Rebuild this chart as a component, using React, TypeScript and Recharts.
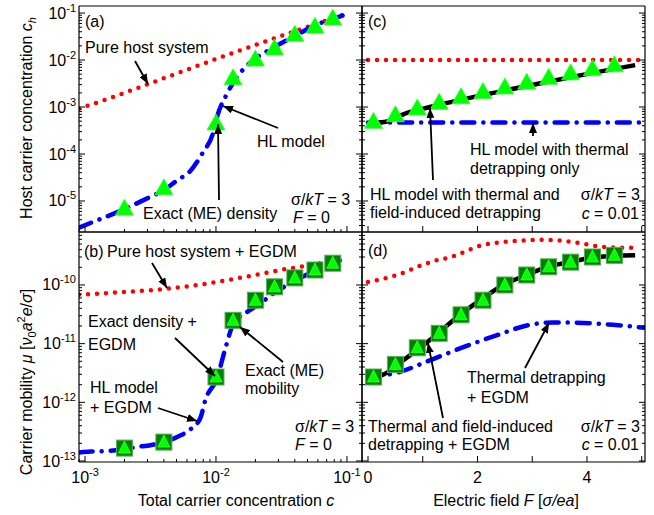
import React from "react";
import { ComposedChart, Line, Scatter, XAxis, YAxis } from "recharts";

const FONT = "'Liberation Sans', Arial, Helvetica, sans-serif";
const W = 654;
const H = 515;

// ---------- (a) host carrier concentration vs total concentration ----------
const exactC = [0.002, 0.004, 0.01, 0.0135, 0.02, 0.028, 0.04, 0.057, 0.078];
const aExactCh = [7.4e-6, 2.0e-5, 4.8e-4, 4.4e-3, 1.1e-2, 1.9e-2, 3.7e-2, 5.5e-2, 8.2e-2];
const aHostC = [0.0009, 0.002, 0.004, 0.01, 0.02, 0.04, 0.097];
const aHostCh = [0.00092, 0.002, 0.0041, 0.0105, 0.021, 0.041, 0.095];
const aHlC = [0.0009, 0.0011, 0.00195, 0.0031, 0.004, 0.0051, 0.0063, 0.0079, 0.0095, 0.0103, 0.012, 0.0145, 0.0174, 0.028, 0.039, 0.057, 0.081, 0.1];
const aHlCh = [2.7e-6, 3.4e-6, 6.5e-6, 1.2e-5, 1.7e-5, 2.8e-5, 4.2e-5, 1.05e-4, 2.8e-4, 6.8e-4, 1.8e-3, 4.4e-3, 7.8e-3, 1.9e-2, 3.1e-2, 5.5e-2, 7.8e-2, 9.5e-2];

// ---------- (b) mobility vs total concentration ----------
const bExactMu = [1.66e-13, 2.1e-13, 2.7e-12, 2.5e-11, 5.5e-11, 9.3e-11, 1.32e-10, 1.8e-10, 2.35e-10];
const bHostC = [0.0009, 0.002, 0.004, 0.01, 0.023, 0.032, 0.044, 0.068, 0.095];
const bHostMu = [6.8e-11, 7.6e-11, 8.5e-11, 1.12e-10, 1.58e-10, 1.82e-10, 2.05e-10, 2.45e-10, 3.0e-10];
const bHlC = [0.00091, 0.0011, 0.00148, 0.00186, 0.0025, 0.00316, 0.004, 0.0051, 0.0063, 0.0076, 0.0083, 0.0102, 0.0117, 0.0135, 0.0174, 0.022, 0.0275, 0.035, 0.046, 0.059, 0.078, 0.1];
const bHlMu = [1.4e-13, 1.45e-13, 1.48e-13, 1.55e-13, 1.74e-13, 1.86e-13, 2.1e-13, 2.6e-13, 3.4e-13, 5.4e-13, 1.1e-12, 2.6e-12, 7.8e-12, 2.1e-11, 3.5e-11, 4.9e-11, 7.2e-11, 1.0e-10, 1.38e-10, 1.8e-10, 2.3e-10, 3.0e-10];

// ---------- (c) host concentration vs field ----------
const exactF = [0.1, 0.5, 0.9, 1.3, 1.7, 2.1, 2.5, 2.9, 3.3, 3.7, 4.1, 4.5];
const cExactCh = [5.2e-4, 7.2e-4, 1.0e-3, 1.32e-3, 1.74e-3, 2.24e-3, 2.8e-3, 3.55e-3, 4.5e-3, 5.6e-3, 6.9e-3, 8.3e-3];
const cHostF = [0, 5];
const cHostCh = [0.01, 0.01];
const cThermF = [0, 5.06];
const cThermCh = [4.7e-4, 4.7e-4];
const cFieldF = [0, 0.3, 0.7, 1.13, 2.1, 3.0, 4.06, 4.88];
const cFieldCh = [4.6e-4, 4.8e-4, 7.4e-4, 1.0e-3, 1.8e-3, 2.95e-3, 5.2e-3, 7.8e-3];

// ---------- (d) mobility vs field ----------
const dExactMu = [2.7e-12, 4.4e-12, 8.5e-12, 1.5e-11, 3.1e-11, 5.5e-11, 1.0e-10, 1.48e-10, 2.04e-10, 2.45e-10, 3.0e-10, 3.2e-10];
const dHostF = [0, 0.53, 1.0, 1.3, 1.46, 2.1, 2.68, 3.2, 3.74, 4.36, 4.88];
const dHostMu = [1.12e-10, 1.48e-10, 2.2e-10, 2.7e-10, 2.9e-10, 4.8e-10, 5.6e-10, 5.9e-10, 5.4e-10, 4.4e-10, 4.3e-10];
const dFieldF = [0, 0.27, 0.58, 1.13, 1.62, 2.05, 2.47, 2.9, 3.27, 3.69, 4.18, 4.88];
const dFieldMu = [2.7e-12, 2.95e-12, 4.7e-12, 1.15e-11, 2.8e-11, 5.5e-11, 1.0e-10, 1.48e-10, 2.04e-10, 2.45e-10, 3.0e-10, 3.2e-10];
const dThermF = [0, 0.53, 1.13, 1.74, 2.36, 2.96, 3.38, 3.93, 4.47, 5.06];
const dThermMu = [2.7e-12, 3.2e-12, 5.2e-12, 8.7e-12, 1.4e-11, 2.1e-11, 2.3e-11, 2.25e-11, 2.1e-11, 1.86e-11];

// axes
const concDecades = [-3, -2, -1];
const chDecades = [-5, -4, -3, -2, -1];
const muDecades = [-13, -12, -11, -10];
const fieldTicks = [0, 1, 2, 3, 4, 5];
const fieldLabels = [0, 2, 4];

const concDomain = [Math.pow(10, -3.046), Math.pow(10, -0.885)];
const chDomain = [Math.pow(10, -5.66), Math.pow(10, -0.85)];
const muDomain = [Math.pow(10, -13.017), Math.pow(10, -9.097)];
const fieldDomain = [-0.11, 5.06];

const zip = (xs: number[], ys: number[]) => xs.map((x, i) => ({ x, y: ys[i] }));

const logTicks = (decades: number[], dom: number[]) => {
  const out: number[] = [];
  for (let k = decades[0] - 1; k <= decades[decades.length - 1]; k++) {
    for (let m = 1; m <= 9; m++) {
      const v = m * Math.pow(10, k);
      if (v >= dom[0] && v <= dom[1]) out.push(v);
    }
  }
  return out;
};

const decadeOf = (v: number) => {
  const e = Math.log10(v);
  return Math.abs(e - Math.round(e)) < 1e-6 ? Math.round(e) : null;
};

type Side = "left" | "right" | "top" | "bottom";

const makeTick = (side: Side, log: boolean, labels: boolean) => (props: any) => {
  const { x, y, payload } = props;
  const v = payload.value;
  const exp = log ? decadeOf(v) : null;
  const major = log ? exp !== null : true;
  const len = major ? 6 : 3;
  let line;
  if (side === "left") line = <line x1={x} x2={x + len} y1={y} y2={y} stroke="#000" />;
  else if (side === "right") line = <line x1={x} x2={x - len} y1={y} y2={y} stroke="#000" />;
  else if (side === "top") line = <line x1={x} x2={x} y1={y} y2={y + len} stroke="#000" />;
  else line = <line x1={x} x2={x} y1={y} y2={y - len} stroke="#000" />;

  let label = null;
  if (labels && log && exp !== null) {
    const sup = <tspan fontSize={11} dy={-7}>{`-${Math.abs(exp)}`}</tspan>;
    label =
      side === "left" ? (
        <text x={x - 3} y={y + 5.5} textAnchor="end" fontSize={16} fontFamily={FONT} fill="#000">
          10{sup}
        </text>
      ) : (
        <text x={x} y={y + 21} textAnchor="middle" fontSize={16} fontFamily={FONT} fill="#000">
          10{sup}
        </text>
      );
  } else if (labels && !log && fieldLabels.includes(v)) {
    label = (
      <text x={x} y={y + 21} textAnchor="middle" fontSize={16} fontFamily={FONT} fill="#000">
        {v}
      </text>
    );
  }
  return (
    <g>
      {line}
      {label}
    </g>
  );
};

const Triangle = ({ cx, cy, w = 18, h = 16 }: any) => (
  <path
    d={`M${cx},${cy - h / 2} L${cx + w / 2},${cy + h / 2} L${cx - w / 2},${cy + h / 2} Z`}
    fill="#00ff00"
    stroke="#3dff3d"
    strokeWidth={0.8}
  />
);

const SquareTri = ({ cx, cy }: any) => (
  <g>
    <rect x={cx - 8} y={cy - 8} width={16} height={16} fill="#008000" stroke="#55b055" strokeWidth={1} />
    <Triangle cx={cx} cy={cy - 1} w={12} h={12} />
  </g>
);

const redDots = {
  stroke: "#ff0000",
  strokeWidth: 4.5,
  strokeDasharray: "0 9",
  strokeLinecap: "round" as const,
};
const blueDashDot = {
  stroke: "#0000ff",
  strokeWidth: 4.5,
  strokeDasharray: "13 9 0.1 9",
  strokeLinecap: "round" as const,
};
const blackSolid = { stroke: "#000000", strokeWidth: 4.5 };

interface PanelProps {
  plot: { left: number; top: number; right: number; bottom: number };
  xLog: boolean;
  xDomain: number[];
  xTicks: number[];
  yDomain: number[];
  yTicks: number[];
  xLabels: boolean;
  yLabels: boolean;
  children: React.ReactNode;
}

// each axis takes 1px, so the margins are one pixel short of the plot box
const Panel = ({ plot, xLog, xDomain, xTicks, yDomain, yTicks, xLabels, yLabels, children }: PanelProps) => {
  const xScale = xLog ? "log" : "linear";
  const margin = {
    left: plot.left - 1,
    top: plot.top - 1,
    right: W - plot.right - 1,
    bottom: H - plot.bottom - 1,
  };
  const common = {
    type: "number" as const,
    allowDataOverflow: true,
    interval: 0 as const,
    tickSize: 0,
    tickMargin: 0,
    tickLine: false,
    axisLine: { stroke: "#000", strokeWidth: 1.2 },
  };
  return (
    <div style={{ position: "absolute", left: 0, top: 0 }}>
      <ComposedChart width={W} height={H} margin={margin}>
        <XAxis
          {...common}
          xAxisId="b"
          dataKey="x"
          scale={xScale}
          domain={xDomain}
          ticks={xTicks}
          height={1}
          tick={makeTick("bottom", xLog, xLabels)}
        />
        <XAxis
          {...common}
          xAxisId="t"
          orientation="top"
          scale={xScale}
          domain={xDomain}
          ticks={xTicks}
          height={1}
          tick={makeTick("top", xLog, false)}
        />
        <YAxis
          {...common}
          yAxisId="l"
          dataKey="y"
          scale="log"
          domain={yDomain}
          ticks={yTicks}
          width={1}
          tick={makeTick("left", true, yLabels)}
        />
        <YAxis
          {...common}
          yAxisId="r"
          orientation="right"
          scale="log"
          domain={yDomain}
          ticks={yTicks}
          width={1}
          tick={makeTick("right", true, false)}
        />
        {children}
      </ComposedChart>
    </div>
  );
};

const series = (xs: number[], ys: number[], style: any, key: string) => (
  <Line
    key={key}
    data={zip(xs, ys)}
    dataKey="y"
    xAxisId="b"
    yAxisId="l"
    type="monotone"
    dot={false}
    activeDot={false}
    isAnimationActive={false}
    {...style}
  />
);

const points = (xs: number[], ys: number[], shape: any, key: string) => (
  <Scatter
    key={key}
    data={zip(xs, ys)}
    dataKey="y"
    xAxisId="b"
    yAxisId="l"
    shape={shape}
    isAnimationActive={false}
  />
);

const triShape = (p: any) => <Triangle cx={p.cx} cy={p.cy} />;
const sqShape = (p: any) => <SquareTri cx={p.cx} cy={p.cy} />;

const Txt = ({ x, y, anchor = "start", children }: any) => (
  <text x={x} y={y} textAnchor={anchor} fontSize={16} fontFamily={FONT} fill="#000">
    {children}
  </text>
);

const arrows = [
  [135, 61, 148, 84],
  [278, 128, 223, 106],
  [219, 200, 218, 124],
  [152, 263, 167, 288],
  [175, 338, 215, 376],
  [283, 362, 240, 327],
  [158, 408, 197, 421],
  [533, 136, 533, 123],
  [433, 180, 430, 108],
  [525, 368, 549, 323],
  [443, 418, 428, 343],
];

const Overlay = () => (
  <svg width={W} height={H} style={{ position: "absolute", left: 0, top: 0, pointerEvents: "none" }}>
    <defs>
      <marker id="ah" viewBox="0 0 10 8" refX="10" refY="4" markerWidth="10" markerHeight="8" orient="auto" markerUnits="userSpaceOnUse">
        <path d="M0,0 L10,4 L0,8 z" fill="#000" />
      </marker>
    </defs>
    {arrows.map(([x1, y1, x2, y2], i) => (
      <line key={i} x1={x1} y1={y1} x2={x2} y2={y2} stroke="#000" strokeWidth={1.8} markerEnd="url(#ah)" />
    ))}

    {/* (a) */}
    <Txt x={85} y={27}>(a)</Txt>
    <Txt x={85} y={53}>Pure host system</Txt>
    <Txt x={257} y={147}>HL model</Txt>
    <Txt x={143} y={219}>Exact (ME) density</Txt>
    <Txt x={291} y={205}>σ/<tspan fontStyle="italic">kT</tspan> = 3</Txt>
    <Txt x={293} y={223}><tspan fontStyle="italic">F</tspan> = 0</Txt>

    {/* (b) */}
    <Txt x={84} y={257}>(b)</Txt>
    <Txt x={107} y={257}>Pure host system + EGDM</Txt>
    <Txt x={88} y={327}>Exact density +</Txt>
    <Txt x={88} y={350}>EGDM</Txt>
    <Txt x={245} y={376}>Exact (ME)</Txt>
    <Txt x={245} y={394}>mobility</Txt>
    <Txt x={90} y={393}>HL model</Txt>
    <Txt x={90} y={413}>+ EGDM</Txt>
    <Txt x={295} y={432}>σ/<tspan fontStyle="italic">kT</tspan> = 3</Txt>
    <Txt x={295} y={450}><tspan fontStyle="italic">F</tspan> = 0</Txt>

    {/* (c) */}
    <Txt x={368} y={27}>(c)</Txt>
    <Txt x={470} y={155}>HL model with thermal</Txt>
    <Txt x={470} y={174}>detrapping only</Txt>
    <Txt x={370} y={200}>HL model with thermal and</Txt>
    <Txt x={370} y={218}>field-induced detrapping</Txt>
    <Txt x={640} y={200} anchor="end">σ/<tspan fontStyle="italic">kT</tspan> = 3</Txt>
    <Txt x={639} y={219} anchor="end"><tspan fontStyle="italic">c</tspan> = 0.01</Txt>

    {/* (d) */}
    <Txt x={368} y={256}>(d)</Txt>
    <Txt x={467} y={383}>Thermal detrapping</Txt>
    <Txt x={467} y={403}>+ EGDM</Txt>
    <Txt x={368} y={432}>Thermal and field-induced</Txt>
    <Txt x={368} y={450}>detrapping + EGDM</Txt>
    <Txt x={640} y={432} anchor="end">σ/<tspan fontStyle="italic">kT</tspan> = 3</Txt>
    <Txt x={639} y={450} anchor="end"><tspan fontStyle="italic">c</tspan> = 0.01</Txt>

    {/* axis titles */}
    <text transform="translate(32,118) rotate(-90)" textAnchor="middle" fontSize={16} fontFamily={FONT} fill="#000">
      Host carrier concentration <tspan fontStyle="italic">c</tspan>
      <tspan fontStyle="italic" fontSize={11} dy={4}>h</tspan>
    </text>
    <text transform="translate(32,382) rotate(-90)" textAnchor="middle" fontSize={16} fontFamily={FONT} fill="#000">
      Carrier mobility <tspan fontStyle="italic">μ</tspan> [<tspan fontStyle="italic">ν</tspan>
      <tspan fontSize={11} dy={4}>0</tspan>
      <tspan fontStyle="italic" dy={-4}>a</tspan>
      <tspan fontSize={11} dy={-7}>2</tspan>
      <tspan fontStyle="italic" dy={7}>e</tspan>/<tspan fontStyle="italic">σ</tspan>]
    </text>
    <Txt x={236} y={506} anchor="middle">
      Total carrier concentration <tspan fontStyle="italic">c</tspan>
    </Txt>
    <Txt x={506} y={506} anchor="middle">
      Electric field <tspan fontStyle="italic">F</tspan> [<tspan fontStyle="italic">σ/ea</tspan>]
    </Txt>
  </svg>
);

export default function App() {
  const concTicks = logTicks(concDecades, concDomain);
  const chTicks = logTicks(chDecades, chDomain);
  const muTicks = logTicks(muDecades, muDomain);
  return (
    <div style={{ position: "fixed", left: 0, top: 0, width: W, height: H, background: "#fff" }}>
      <Panel
        plot={{ left: 79, top: 6, right: 362, bottom: 232 }}
        xLog
        xDomain={concDomain}
        xTicks={concTicks}
        yDomain={chDomain}
        yTicks={chTicks}
        xLabels={false}
        yLabels
      >
        {points(exactC, aExactCh, triShape, "a-exact")}
        {series(aHostC, aHostCh, redDots, "a-host")}
        {series(aHlC, aHlCh, blueDashDot, "a-hl")}
      </Panel>
      <Panel
        plot={{ left: 79, top: 232, right: 362, bottom: 462 }}
        xLog
        xDomain={concDomain}
        xTicks={concTicks}
        yDomain={muDomain}
        yTicks={muTicks}
        xLabels
        yLabels
      >
        {points(exactC, bExactMu, sqShape, "b-exact")}
        {series(bHostC, bHostMu, redDots, "b-host")}
        {series(bHlC, bHlMu, blueDashDot, "b-hl")}
      </Panel>
      <Panel
        plot={{ left: 362, top: 6, right: 645, bottom: 232 }}
        xLog={false}
        xDomain={fieldDomain}
        xTicks={fieldTicks}
        yDomain={chDomain}
        yTicks={chTicks}
        xLabels={false}
        yLabels={false}
      >
        {points(exactF, cExactCh, triShape, "c-exact")}
        {series(cHostF, cHostCh, redDots, "c-host")}
        {series(cThermF, cThermCh, blueDashDot, "c-therm")}
        {series(cFieldF, cFieldCh, blackSolid, "c-field")}
      </Panel>
      <Panel
        plot={{ left: 362, top: 232, right: 645, bottom: 462 }}
        xLog={false}
        xDomain={fieldDomain}
        xTicks={fieldTicks}
        yDomain={muDomain}
        yTicks={muTicks}
        xLabels
        yLabels={false}
      >
        {points(exactF, dExactMu, sqShape, "d-exact")}
        {series(dHostF, dHostMu, redDots, "d-host")}
        {series(dThermF, dThermMu, blueDashDot, "d-therm")}
        {series(dFieldF, dFieldMu, blackSolid, "d-field")}
      </Panel>
      <Overlay />
    </div>
  );
}
